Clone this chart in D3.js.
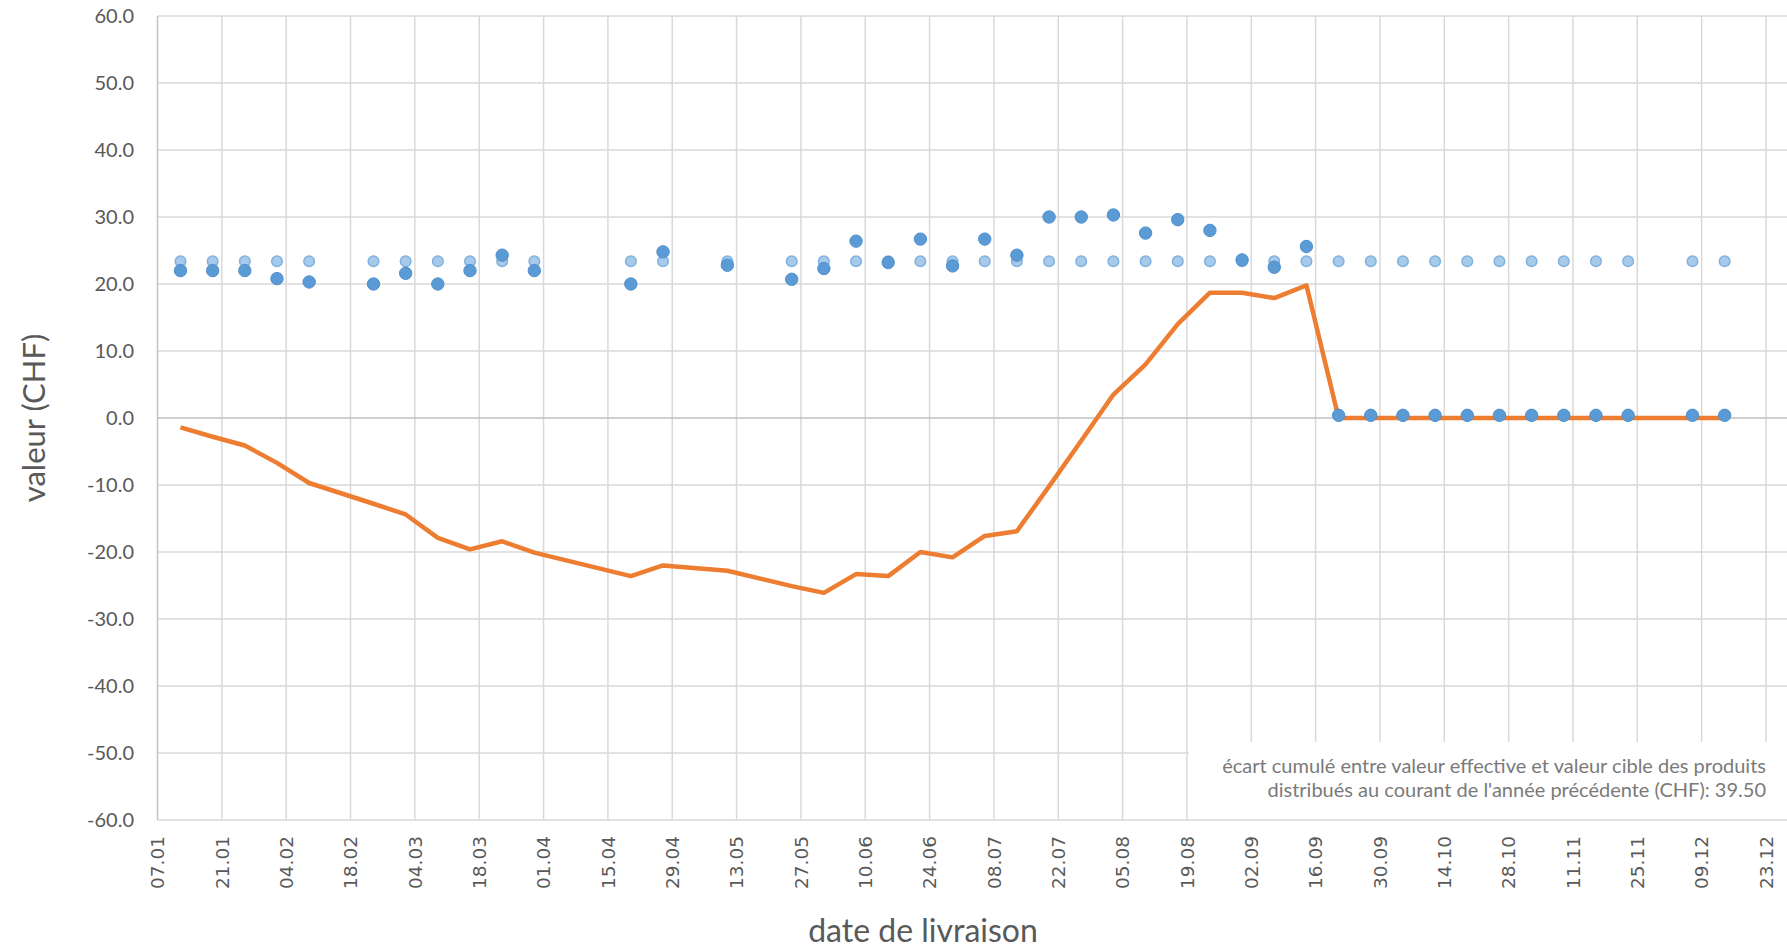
<!DOCTYPE html>
<html>
<head>
<meta charset="utf-8">
<script src="https://cdn.jsdelivr.net/npm/d3@7"></script>
<style>
    body { margin: 0; background: #fff; }
    svg { display: block; font-family: Lato, "Open Sans", sans-serif; }
</style>
</head>
<body>
<svg id="chart" width="1787" height="949"></svg>
<script>
// delivery dates (weekly, some weeks without delivery)
const deliveryDates = [
    "2019-01-12", "2019-01-19", "2019-01-26", "2019-02-02", "2019-02-09",
    "2019-02-23", "2019-03-02", "2019-03-09", "2019-03-16", "2019-03-23", "2019-03-30",
    "2019-04-20", "2019-04-27", "2019-05-11", "2019-05-25", "2019-06-01",
    "2019-06-08", "2019-06-15", "2019-06-22", "2019-06-29", "2019-07-06",
    "2019-07-13", "2019-07-20", "2019-07-27", "2019-08-03", "2019-08-10",
    "2019-08-17", "2019-08-24", "2019-08-31", "2019-09-07", "2019-09-14",
    "2019-09-21", "2019-09-28", "2019-10-05", "2019-10-12", "2019-10-19",
    "2019-10-26", "2019-11-02", "2019-11-09", "2019-11-16", "2019-11-23",
    "2019-12-07", "2019-12-14"
];

// valeur effective
const actualValues = [
    22.0, 22.0, 22.0, 20.8, 20.3,
    20.0, 21.6, 20.0, 22.0, 24.3, 22.0,
    20.0, 24.8, 22.8, 20.7, 22.3,
    26.4, 23.2, 26.7, 22.7, 26.7,
    24.3, 30.0, 30.0, 30.3, 27.6,
    29.6, 28.0, 23.6, 22.5, 25.6,
    0.4, 0.4, 0.4, 0.4, 0.4,
    0.4, 0.4, 0.4, 0.4, 0.4,
    0.4, 0.4
];

// valeur cible
const targetValues = [
    23.4, 23.4, 23.4, 23.4, 23.4,
    23.4, 23.4, 23.4, 23.4, 23.4, 23.4,
    23.4, 23.4, 23.4, 23.4, 23.4,
    23.4, 23.4, 23.4, 23.4, 23.4,
    23.4, 23.4, 23.4, 23.4, 23.4,
    23.4, 23.4, 23.4, 23.4, 23.4,
    23.4, 23.4, 23.4, 23.4, 23.4,
    23.4, 23.4, 23.4, 23.4, 23.4,
    23.4, 23.4
];

// écart cumulé
const cumulativeGap = [
    -1.4, -2.8, -4.1, -6.7, -9.7,
    -12.8, -14.4, -17.9, -19.6, -18.4, -20.1,
    -23.6, -22.0, -22.8, -25.1, -26.1,
    -23.3, -23.6, -20.0, -20.8, -17.6,
    -16.9, -10.2, -3.4, 3.5, 8.0,
    14.0, 18.7, 18.7, 17.9, 19.8,
    0, 0, 0, 0, 0,
    0, 0, 0, 0, 0,
    0, 0
];

const xTickDates = [
    "2019-01-07", "2019-01-21", "2019-02-04", "2019-02-18", "2019-03-04",
    "2019-03-18", "2019-04-01", "2019-04-15", "2019-04-29", "2019-05-13",
    "2019-05-27", "2019-06-10", "2019-06-24", "2019-07-08", "2019-07-22",
    "2019-08-05", "2019-08-19", "2019-09-02", "2019-09-16", "2019-09-30",
    "2019-10-14", "2019-10-28", "2019-11-11", "2019-11-25", "2019-12-09",
    "2019-12-23"
];
const yTicks = [-60, -50, -40, -30, -20, -10, 0, 10, 20, 30, 40, 50, 60];

const yTitle = "valeur (CHF)";
const xTitle = "date de livraison";
const noteLines = [
    "écart cumulé entre valeur effective et valeur cible des produits",
    "distribués au courant de l'année précédente (CHF): 39.50"
];

const svg = d3.select("#chart");
const width = +svg.attr("width");
const plot = {left: 157.5, top: 16, bottom: 820, right: 1766};

const parse = d3.timeParse("%Y-%m-%d");
const fmt = d3.timeFormat("%d.%m");
const ticks = xTickDates.map(parse);

const x = d3.scaleTime()
    .domain([ticks[0], ticks[ticks.length - 1]])
    .range([plot.left, plot.right]);
const y = d3.scaleLinear().domain([-60, 60]).range([plot.bottom, plot.top]);

const points = deliveryDates.map((d, i) => ({
    date: parse(d),
    actual: actualValues[i],
    target: targetValues[i],
    gap: cumulativeGap[i]
}));

// grid
const grid = svg.append("g").attr("stroke", "#d9d9d9").attr("stroke-width", 1.5);
grid.selectAll(".hgrid")
    .data(yTicks.filter(v => v !== 0))
    .join("line")
    .attr("class", "hgrid")
    .attr("x1", plot.left).attr("x2", width)
    .attr("y1", d => y(d)).attr("y2", d => y(d));
grid.selectAll(".vgrid")
    .data(ticks.slice(1))
    .join("line")
    .attr("class", "vgrid")
    .attr("x1", d => x(d)).attr("x2", d => x(d))
    .attr("y1", plot.top).attr("y2", plot.bottom);

// axis lines
svg.append("line")
    .attr("x1", plot.left).attr("x2", plot.left)
    .attr("y1", plot.top).attr("y2", plot.bottom)
    .attr("stroke", "#c4c4c4").attr("stroke-width", 1.5);
svg.append("line")
    .attr("x1", plot.left).attr("x2", width)
    .attr("y1", y(0)).attr("y2", y(0))
    .attr("stroke", "#bfbfbf").attr("stroke-width", 1.5);

// y tick labels
svg.append("g")
    .selectAll("text")
    .data(yTicks)
    .join("text")
    .attr("x", 134)
    .attr("y", d => y(d))
    .attr("dy", "0.36em")
    .attr("text-anchor", "end")
    .attr("font-size", 20)
    .attr("fill", "#595959")
    .text(d => d.toFixed(1));

// x tick labels (rotated)
svg.append("g")
    .selectAll("text")
    .data(ticks)
    .join("text")
    .attr("transform", d => `translate(${x(d)},836) rotate(-90)`)
    .attr("dy", "0.36em")
    .attr("text-anchor", "end")
    .attr("font-family", "DejaVu Sans, sans-serif")
    .attr("font-size", 18.5)
    .attr("fill", "#595959")
    .text(d => fmt(d));

// note box
svg.append("rect")
    .attr("x", 1189).attr("y", 742)
    .attr("width", width - 1189).attr("height", 77)
    .attr("fill", "#fff");
svg.append("g")
    .selectAll("text")
    .data(noteLines)
    .join("text")
    .attr("x", 1766)
    .attr("y", (d, i) => 773 + i * 24)
    .attr("text-anchor", "end")
    .attr("font-size", 20)
    .attr("fill", "#7a7a7a")
    .text(d => d);

// cumulative line
const line = d3.line().x(d => x(d.date)).y(d => y(d.gap));
svg.append("path")
    .datum(points)
    .attr("d", line)
    .attr("fill", "none")
    .attr("stroke", "#ed7d31")
    .attr("stroke-width", 4.5)
    .attr("stroke-linejoin", "round");

// target markers
svg.append("g")
    .selectAll("circle")
    .data(points)
    .join("circle")
    .attr("cx", d => x(d.date))
    .attr("cy", d => y(d.target))
    .attr("r", 5.3)
    .attr("fill", "#a7c9ea")
    .attr("stroke", "#80b2e0")
    .attr("stroke-width", 1.5);

// actual markers
svg.append("g")
    .selectAll("circle")
    .data(points)
    .join("circle")
    .attr("cx", d => x(d.date))
    .attr("cy", d => y(d.actual))
    .attr("r", 6.2)
    .attr("fill", "#5b9bd5")
    .attr("stroke", "#4f8fcc")
    .attr("stroke-width", 1);

// axis titles
svg.append("text")
    .attr("transform", `translate(45,${y(0)}) rotate(-90)`)
    .attr("text-anchor", "middle")
    .attr("font-size", 31)
    .attr("fill", "#595959")
    .text(yTitle);
svg.append("text")
    .attr("x", 923).attr("y", 942)
    .attr("text-anchor", "middle")
    .attr("font-size", 32)
    .attr("fill", "#595959")
    .text(xTitle);
</script>
</body>
</html>
